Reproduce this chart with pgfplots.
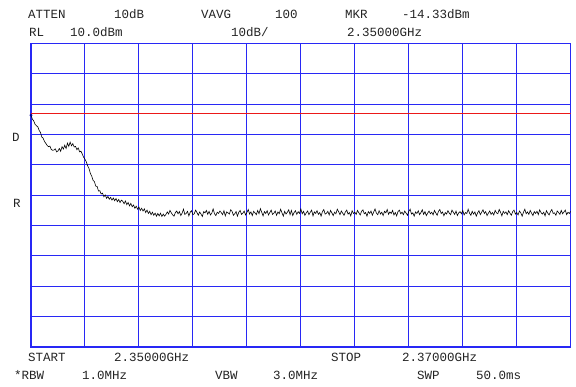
\documentclass[border=0pt]{standalone}
\usepackage{pgfplots}
\pgfplotsset{compat=1.18}
\usepackage{fontspec}
\setmainfont{Liberation Mono}
\definecolor{gridblue}{RGB}{40,40,245}
\definecolor{mkred}{RGB}{235,25,25}
\definecolor{txt}{RGB}{35,35,35}
\pgfplotstableread{
x y
2350.00 -13.6
2350.05 -14.9
2350.10 -15.5
2350.15 -16.6
2350.20 -17.1
2350.25 -17.4
2350.30 -18.6
2350.35 -19.3
2350.40 -20.8
2350.45 -21.2
2350.50 -22.3
2350.55 -22.9
2350.60 -23.6
2350.65 -24.0
2350.70 -23.8
2350.75 -24.9
2350.80 -25.2
2350.85 -25.1
2350.90 -24.7
2350.95 -25.7
2351.00 -25.4
2351.05 -24.6
2351.10 -25.5
2351.15 -24.0
2351.20 -24.8
2351.25 -23.5
2351.30 -24.6
2351.35 -22.8
2351.40 -23.9
2351.45 -22.5
2351.50 -23.7
2351.55 -23.0
2351.60 -24.1
2351.65 -23.9
2351.70 -25.0
2351.75 -24.4
2351.80 -25.7
2351.85 -25.5
2351.90 -26.4
2351.95 -27.5
2352.00 -28.1
2352.05 -29.0
2352.10 -30.3
2352.15 -31.2
2352.20 -32.8
2352.25 -33.7
2352.30 -35.1
2352.35 -35.5
2352.40 -37.0
2352.45 -37.1
2352.50 -38.6
2352.55 -38.5
2352.60 -39.6
2352.65 -39.3
2352.70 -40.5
2352.75 -39.9
2352.80 -41.0
2352.85 -40.4
2352.90 -41.3
2352.95 -40.7
2353.00 -41.6
2353.05 -40.9
2353.10 -41.8
2353.15 -41.1
2353.20 -42.1
2353.25 -41.4
2353.30 -42.4
2353.35 -41.6
2353.40 -42.0
2353.45 -42.8
2353.50 -41.9
2353.55 -43.1
2353.60 -42.4
2353.65 -43.5
2353.70 -42.7
2353.75 -43.8
2353.80 -43.2
2353.85 -44.3
2353.90 -43.6
2353.95 -44.6
2354.00 -43.9
2354.05 -45.0
2354.10 -44.3
2354.15 -45.2
2354.20 -44.5
2354.25 -45.7
2354.30 -44.9
2354.35 -46.0
2354.40 -45.3
2354.45 -46.4
2354.50 -45.6
2354.55 -46.6
2354.60 -45.9
2354.65 -46.9
2354.70 -46.0
2354.75 -46.8
2354.80 -45.9
2354.85 -47.0
2354.90 -46.2
2354.95 -46.9
2355.00 -46.3
2355.05 -45.5
2355.10 -46.2
2355.15 -45.0
2355.20 -45.8
2355.25 -46.5
2355.30 -46.9
2355.35 -45.7
2355.40 -45.2
2355.45 -46.1
2355.50 -45.4
2355.55 -46.7
2355.60 -45.9
2355.65 -44.6
2355.70 -46.3
2355.75 -46.0
2355.80 -45.3
2355.85 -46.8
2355.90 -45.6
2355.95 -45.1
2356.00 -46.4
2356.05 -46.1
2356.10 -44.9
2356.15 -45.7
2356.20 -46.6
2356.25 -45.5
2356.30 -46.2
2356.35 -47.0
2356.40 -45.4
2356.45 -45.8
2356.50 -45.0
2356.55 -46.3
2356.60 -45.3
2356.65 -46.5
2356.70 -45.9
2356.75 -44.5
2356.80 -46.1
2356.85 -46.7
2356.90 -45.6
2356.95 -46.0
2357.00 -45.2
2357.05 -45.7
2357.10 -46.4
2357.15 -45.1
2357.20 -46.8
2357.25 -45.5
2357.30 -45.8
2357.35 -46.2
2357.40 -44.8
2357.45 -45.3
2357.50 -46.6
2357.55 -46.1
2357.60 -45.4
2357.65 -46.9
2357.70 -45.6
2357.75 -45.0
2357.80 -46.3
2357.85 -45.9
2357.90 -45.2
2357.95 -46.5
2358.00 -45.7
2358.05 -44.7
2358.10 -46.2
2358.15 -45.5
2358.20 -46.7
2358.25 -45.3
2358.30 -45.8
2358.35 -46.4
2358.40 -45.0
2358.45 -46.1
2358.50 -44.4
2358.55 -45.6
2358.60 -46.8
2358.65 -45.4
2358.70 -46.0
2358.75 -45.1
2358.80 -46.5
2358.85 -45.7
2358.90 -44.9
2358.95 -46.3
2359.00 -45.9
2359.05 -45.2
2359.10 -46.6
2359.15 -45.5
2359.20 -46.1
2359.25 -44.6
2359.30 -45.8
2359.35 -46.9
2359.40 -45.3
2359.45 -46.2
2359.50 -45.6
2359.55 -44.8
2359.60 -46.4
2359.65 -45.0
2359.70 -46.7
2359.75 -45.7
2359.80 -45.1
2359.85 -46.3
2359.90 -45.4
2359.95 -46.0
2360.00 -44.5
2360.05 -46.1
2360.10 -45.3
2360.15 -46.6
2360.20 -45.8
2360.25 -45.2
2360.30 -46.4
2360.35 -45.6
2360.40 -44.9
2360.45 -46.8
2360.50 -45.5
2360.55 -46.0
2360.60 -45.1
2360.65 -46.3
2360.70 -45.7
2360.75 -46.9
2360.80 -45.4
2360.85 -44.7
2360.90 -46.2
2360.95 -45.9
2361.00 -45.3
2361.05 -46.5
2361.10 -45.0
2361.15 -45.8
2361.20 -46.7
2361.25 -45.6
2361.30 -46.1
2361.35 -44.6
2361.40 -45.4
2361.45 -46.4
2361.50 -45.2
2361.55 -45.9
2361.60 -46.6
2361.65 -45.5
2361.70 -44.9
2361.75 -46.2
2361.80 -45.7
2361.85 -46.8
2361.90 -45.1
2361.95 -46.0
2362.00 -45.6
2362.05 -46.3
2362.10 -45.0
2362.15 -45.8
2362.20 -46.5
2362.25 -45.3
2362.30 -44.8
2362.35 -46.1
2362.40 -45.7
2362.45 -46.9
2362.50 -45.4
2362.55 -46.0
2362.60 -45.2
2362.65 -46.6
2362.70 -45.5
2362.75 -44.5
2362.80 -45.9
2362.85 -46.4
2362.90 -45.1
2362.95 -46.2
2363.00 -45.6
2363.05 -46.7
2363.10 -45.3
2363.15 -45.8
2363.20 -44.7
2363.25 -46.3
2363.30 -45.5
2363.35 -46.0
2363.40 -45.0
2363.45 -46.5
2363.50 -45.7
2363.55 -46.8
2363.60 -45.4
2363.65 -44.9
2363.70 -46.1
2363.75 -45.6
2363.80 -46.4
2363.85 -45.2
2363.90 -45.9
2363.95 -46.6
2364.00 -45.3
2364.05 -44.6
2364.10 -46.2
2364.15 -45.8
2364.20 -46.9
2364.25 -45.5
2364.30 -46.0
2364.35 -45.1
2364.40 -46.4
2364.45 -45.7
2364.50 -44.8
2364.55 -46.3
2364.60 -45.4
2364.65 -46.7
2364.70 -45.9
2364.75 -45.2
2364.80 -46.1
2364.85 -45.6
2364.90 -46.5
2364.95 -45.0
2365.00 -45.8
2365.05 -46.6
2365.10 -45.3
2365.15 -44.7
2365.20 -46.0
2365.25 -45.5
2365.30 -46.8
2365.35 -45.7
2365.40 -46.2
2365.45 -45.1
2365.50 -45.9
2365.55 -46.4
2365.60 -44.9
2365.65 -45.6
2365.70 -46.3
2365.75 -45.2
2365.80 -46.7
2365.85 -45.8
2365.90 -45.4
2365.95 -46.1
2366.00 -45.0
2366.05 -46.5
2366.10 -45.7
2366.15 -46.0
2366.20 -44.6
2366.25 -45.9
2366.30 -46.6
2366.35 -45.3
2366.40 -46.2
2366.45 -45.5
2366.50 -46.9
2366.55 -45.8
2366.60 -45.1
2366.65 -46.4
2366.70 -45.6
2366.75 -44.8
2366.80 -46.0
2366.85 -45.4
2366.90 -46.7
2366.95 -45.9
2367.00 -45.2
2367.05 -46.3
2367.10 -45.7
2367.15 -46.5
2367.20 -45.0
2367.25 -45.8
2367.30 -46.1
2367.35 -44.7
2367.40 -45.6
2367.45 -46.8
2367.50 -45.3
2367.55 -46.0
2367.60 -45.5
2367.65 -46.4
2367.70 -45.1
2367.75 -45.9
2367.80 -46.6
2367.85 -45.4
2367.90 -44.9
2367.95 -46.2
2368.00 -45.7
2368.05 -46.5
2368.10 -45.2
2368.15 -45.8
2368.20 -46.9
2368.25 -45.6
2368.30 -44.6
2368.35 -46.1
2368.40 -45.5
2368.45 -46.3
2368.50 -45.0
2368.55 -45.9
2368.60 -46.7
2368.65 -45.4
2368.70 -46.0
2368.75 -45.3
2368.80 -46.4
2368.85 -44.8
2368.90 -45.7
2368.95 -46.2
2369.00 -45.6
2369.05 -46.8
2369.10 -45.1
2369.15 -45.9
2369.20 -46.5
2369.25 -45.4
2369.30 -44.7
2369.35 -46.0
2369.40 -45.8
2369.45 -46.6
2369.50 -45.2
2369.55 -45.7
2369.60 -46.3
2369.65 -45.0
2369.70 -46.1
2369.75 -45.5
2369.80 -44.9
2369.85 -46.4
2369.90 -45.6
2369.95 -46.0
2370.00 -45.3
}\trace
\begin{document}
\begin{tikzpicture}[x=1pt,y=1pt]
\useasboundingbox (0,0) rectangle (576,387);
\begin{axis}[
  at={(31pt,40pt)}, anchor=south west, scale only axis,
  width=539.7pt, height=303.5pt,
  xmin=2350, xmax=2370, ymin=-90, ymax=10,
  xtick={2350,2352,...,2370}, ytick={-90,-80,...,10},
  xticklabels={}, yticklabels={}, major tick length=0pt,
  grid=major,
  major grid style={gridblue, line width=1pt},
  axis line style={gridblue, line width=1.1pt},
]
\addplot[mkred, line width=1pt] coordinates {(2350,-13) (2370,-13)};
\addplot[black, line width=0.6pt] table[x=x,y=y] {\trace};
\addplot[only marks, mark=*, mark size=1.3pt, blue!60!black] coordinates {(2350,-13.6)};
\end{axis}
\begin{scope}[every node/.style={font=\fontsize{12.5}{13}\selectfont, text=txt, anchor=west, inner sep=0pt}]
\node at (28,372.5) {ATTEN};
\node at (114,372.5) {10dB};
\node at (201,372.5) {VAVG};
\node at (275,372.5) {100};
\node at (345,372.5) {MKR};
\node at (402,372.5) {-14.33dBm};
\node at (29,354.5) {RL};
\node at (70,354.5) {10.0dBm};
\node at (231,354.5) {10dB/};
\node at (347,354.5) {2.35000GHz};
\node at (12,249.5) {D};
\node at (13,184) {R};
\node at (28,30) {START};
\node at (114,30) {2.35000GHz};
\node at (331,30) {STOP};
\node at (402,30) {2.37000GHz};
\node at (14,12) {*RBW};
\node at (82,12) {1.0MHz};
\node at (215,12) {VBW};
\node at (273,12) {3.0MHz};
\node at (417,12) {SWP};
\node at (476,12) {50.0ms};
\end{scope}
\end{tikzpicture}
\end{document}
